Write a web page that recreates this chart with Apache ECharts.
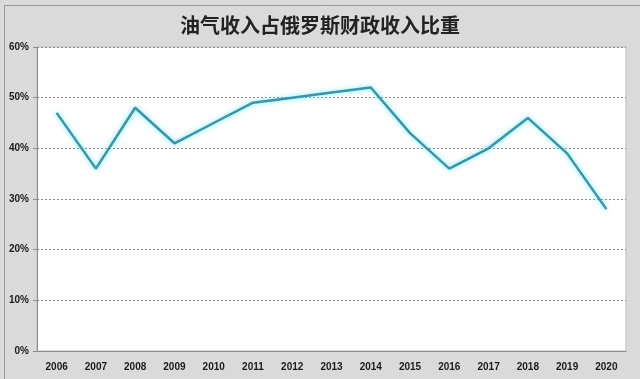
<!DOCTYPE html>
<html><head><meta charset="utf-8">
<script src="https://cdn.jsdelivr.net/npm/echarts@6/dist/echarts.min.js"></script>
<style>html,body{margin:0;padding:0;background:#fff}#c{width:640px;height:379px}</style>
</head><body><div id="c"></div>
<script>
var years = ['2006','2007','2008','2009','2010','2011','2012','2013','2014','2015','2016','2017','2018','2019','2020'];
var shareValues = [47, 36, 48, 41, 45, 49, 50, 51, 52, 43, 36, 40, 46, 39, 28];
var titleText = '油气收入占俄罗斯财政收入比重';

var chart = echarts.init(document.getElementById('c'));
chart.setOption({
  backgroundColor: '#dadada',
  animation: false,
  graphic: [{
    type: 'rect', left: 2, top: 3, shape: {width: 636, height: 374},
    style: {fill: 'none', stroke: '#9a9a9a', lineWidth: 1}, silent: true
  }],
  title: {
    text: titleText, left: 'center', top: 10,
    textStyle: {fontFamily: 'Noto Sans CJK SC', fontSize: 20, fontWeight: 'bold', color: '#222222'}
  },
  grid: {
    left: 37, right: 14, top: 47, bottom: 28,
    show: true, backgroundColor: '#ffffff', borderColor: '#bdbdbd', borderWidth: 1
  },
  xAxis: {
    type: 'category', data: years, boundaryGap: true,
    axisLine: {lineStyle: {color: '#8c8c8c'}},
    axisTick: {inside: true, length: 3, lineStyle: {color: '#8c8c8c'}},
    axisLabel: {color: '#1a1a1a', fontWeight: 'bold', fontSize: 10, fontFamily: 'Liberation Sans', margin: 11}
  },
  yAxis: {
    type: 'value', min: 0, max: 60, interval: 10,
    axisLine: {show: true, lineStyle: {color: '#8c8c8c'}},
    axisTick: {show: true, length: 4, lineStyle: {color: '#8c8c8c'}},
    axisLabel: {formatter: '{value}%', color: '#1a1a1a', fontWeight: 'bold', fontSize: 10, fontFamily: 'Liberation Sans', margin: 8},
    splitLine: {lineStyle: {color: '#8a8a8a', type: [2, 2], width: 1}}
  },
  series: [{
    type: 'line', data: shareValues, symbol: 'none',
    lineStyle: {color: '#3497ae', width: 2.5, shadowColor: 'rgba(90,235,255,0.9)', shadowBlur: 5}
  }]
});
</script></body></html>
